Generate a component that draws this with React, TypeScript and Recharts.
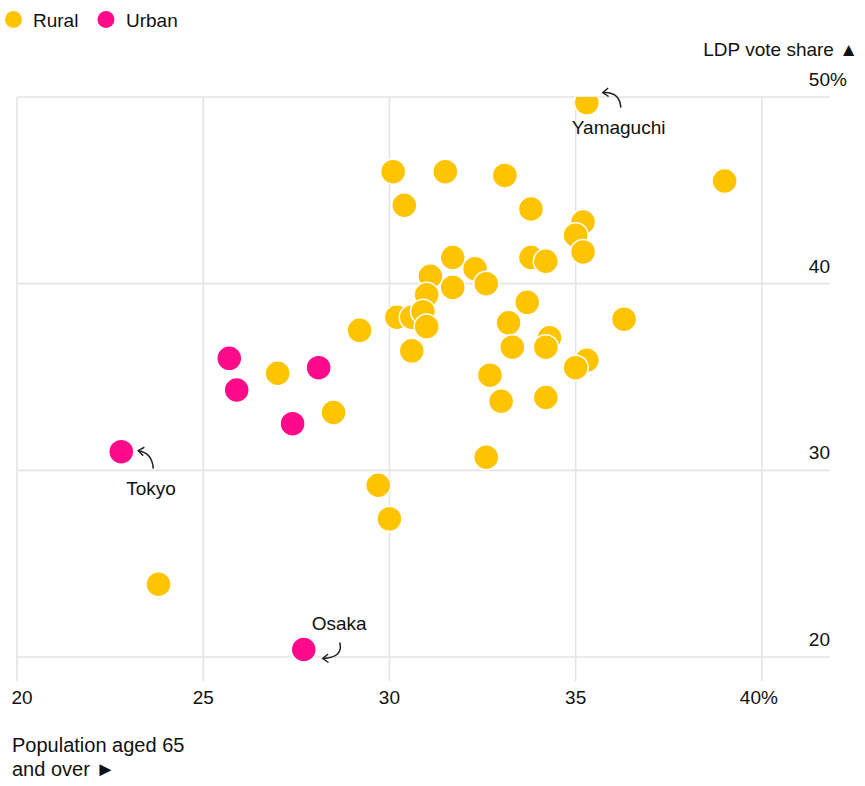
import React from 'react';
import { ScatterChart, Scatter, XAxis, YAxis, CartesianGrid, ReferenceDot } from 'recharts';

const FONT = '"Liberation Sans", Arial, Helvetica, sans-serif';
const RURAL = '#FFC400';
const URBAN = '#FF0A8A';
const INK = '#111111';

// Rural prefectures: share of population aged 65+ (%) and LDP vote share (%)
const ruralAged = [
  35.3, 39.0, 30.1, 31.5, 33.1, 30.4, 33.8, 35.2, 35.0, 35.2,
  33.8, 34.2, 31.7, 32.3, 31.1, 32.6, 31.7, 31.0, 33.7, 36.3,
  30.2, 30.6, 30.9, 31.0, 33.2, 29.2, 34.3, 34.2, 33.3, 30.6,
  35.3, 35.0, 27.0, 32.7, 33.0, 34.2, 28.5, 32.6, 29.7, 30.0,
  23.8,
];
const ruralLdp = [
  49.7, 45.5, 46.0, 46.0, 45.8, 44.2, 44.0, 43.3, 42.6, 41.7,
  41.4, 41.2, 41.4, 40.8, 40.4, 40.0, 39.8, 39.4, 39.0, 38.1,
  38.2, 38.2, 38.5, 37.7, 37.9, 37.5, 37.1, 36.6, 36.6, 36.4,
  35.9, 35.5, 35.2, 35.1, 33.7, 33.9, 33.1, 30.7, 29.2, 27.4,
  23.9,
];

// Urban prefectures
const urbanAged = [22.8, 25.7, 25.9, 28.1, 27.4, 27.7];
const urbanLdp = [31.0, 36.0, 34.3, 35.5, 32.5, 20.4];

const xTicks = [20, 25, 30, 35, 40];
const yTicks = [20, 30, 40, 50];

const calloutNames = ['Yamaguchi', 'Tokyo', 'Osaka'];
const calloutAged = [35.3, 22.8, 27.7];
const calloutLdp = [49.7, 31.0, 20.4];

const ruralData = ruralAged.map((a, i) => ({ aged: a, ldp: ruralLdp[i] }));
const urbanData = urbanAged.map((a, i) => ({ aged: a, ldp: urbanLdp[i] }));

// Style offsets for the annotations (relative to the data point)
const calloutStyle: Record<string, any> = {
  Yamaguchi: { tx: -15, ty: 31, anchor: 'start', p: [34, 5, 33, -11, 16, -10] },
  Tokyo: { tx: 5, ty: 43, anchor: 'start', p: [32, 17, 31, 1, 17, -1] },
  Osaka: { tx: 8, ty: -20, anchor: 'start', p: [36, -7, 40, 8, 19, 9] },
};

const dot = (color: string) => (props: any) => (
  <circle cx={props.cx} cy={props.cy} r={12.5} fill={color} stroke="#ffffff" strokeWidth={1.5} />
);

const XTick = (props: any) => {
  const v = props.payload.value;
  const shift = v === 20 ? 5 : v === 40 ? -3 : 0;
  return (
    <text x={props.x + shift} y={props.y + 23} textAnchor="middle" fontFamily={FONT} fontSize={19} fill={INK}>
      {v === 40 ? '40%' : String(v)}
    </text>
  );
};

const YTick = (props: any) => {
  const v = props.payload.value;
  return (
    <g>
      <text x={props.x} y={props.y - 11} textAnchor="end" fontFamily={FONT} fontSize={19} fill={INK}>
        {String(v)}
      </text>
      {v === 50 ? (
        <text x={props.x} y={props.y - 11} textAnchor="start" fontFamily={FONT} fontSize={19} fill={INK}>
          %
        </text>
      ) : null}
    </g>
  );
};

const makeCallout = (name: string) => (props: any) => {
  const s = calloutStyle[name];
  const cx = props.cx;
  const cy = props.cy;
  const [sx, sy, qx, qy, ex, ey] = s.p;
  const x0 = cx + sx, y0 = cy + sy, x1 = cx + qx, y1 = cy + qy, x2 = cx + ex, y2 = cy + ey;
  const ang = Math.atan2(y2 - y1, x2 - x1);
  const len = 7;
  const a1 = ang + Math.PI - 0.65;
  const a2 = ang + Math.PI + 0.65;
  const h1x = x2 + len * Math.cos(a1), h1y = y2 + len * Math.sin(a1);
  const h2x = x2 + len * Math.cos(a2), h2y = y2 + len * Math.sin(a2);
  return (
    <g>
      <path d={`M${x0},${y0} Q${x1},${y1} ${x2},${y2}`} fill="none" stroke="#222" strokeWidth={1.5} />
      <path d={`M${h1x},${h1y} L${x2},${y2} L${h2x},${h2y}`} fill="none" stroke="#222" strokeWidth={1.5} />
      <text x={cx + s.tx} y={cy + s.ty} textAnchor={s.anchor} fontFamily={FONT} fontSize={19} fill={INK}>
        {name}
      </text>
    </g>
  );
};

const asFn = (sc: any): ((v: number) => number) | null => {
  if (!sc) return null;
  if (typeof sc === 'function') return sc;
  if (typeof sc.map === 'function') return (v: number) => sc.map(v);
  if (typeof sc.scale === 'function') return (v: number) => sc.scale(v);
  return null;
};

const hGen = (args: any) => {
  const f = asFn(args && args.yAxis && args.yAxis.scale);
  if (!f) return [];
  return yTicks.map((t) => f(t)).filter((v) => typeof v === 'number' && !isNaN(v));
};
const vGen = (args: any) => {
  const f = asFn(args && args.xAxis && args.xAxis.scale);
  if (!f) return [];
  return xTicks.map((t) => f(t)).filter((v) => typeof v === 'number' && !isNaN(v));
};

export default function App() {
  return (
    <div style={{ position: 'absolute', left: 0, top: 0, width: 865, height: 786, background: '#fff' }}>
      <ScatterChart
        width={865}
        height={786}
        margin={{ top: 97, left: 17, right: 0, bottom: 65 }}
      >
        <CartesianGrid
          stroke="#E4E4E4"
          strokeWidth={1.6}
          horizontalCoordinatesGenerator={hGen}
          verticalCoordinatesGenerator={vGen}
        />
        <XAxis
          type="number"
          dataKey="aged"
          domain={[20, 41.83]}
          ticks={xTicks}
          interval={0}
          allowDataOverflow
          axisLine={false}
          tickLine={false}
          tickSize={0}
          tickMargin={0}
          height={40}
          tick={<XTick />}
        />
        <YAxis
          type="number"
          dataKey="ldp"
          orientation="right"
          domain={[18.714, 50]}
          ticks={yTicks}
          interval={0}
          allowDataOverflow
          axisLine={false}
          tickLine={false}
          tickSize={0}
          tickMargin={0}
          width={35}
          tick={<YTick />}
        />
        <Scatter data={ruralData} shape={dot(RURAL)} isAnimationActive={false} />
        <Scatter data={urbanData} shape={dot(URBAN)} isAnimationActive={false} />
        {calloutNames.map((n, i) => (
          <ReferenceDot
            key={n}
            x={calloutAged[i]}
            y={calloutLdp[i]}
            r={0}
            ifOverflow="visible"
            shape={makeCallout(n)}
          />
        ))}
      </ScatterChart>
      <svg
        width={865}
        height={786}
        style={{ position: 'absolute', left: 0, top: 0, pointerEvents: 'none' }}
      >
        <circle cx={13.5} cy={19.5} r={8.5} fill={RURAL} />
        <text x={33} y={27} fontFamily={FONT} fontSize={19} fill={INK}>Rural</text>
        <circle cx={106} cy={19.5} r={8.5} fill={URBAN} />
        <text x={126} y={27} fontFamily={FONT} fontSize={19} fill={INK}>Urban</text>
        <text x={858} y={56} textAnchor="end" fontFamily={FONT} fontSize={19} fill={INK}>LDP vote share ▲</text>
        <text x={12} y={752} fontFamily={FONT} fontSize={20} fill={INK}>Population aged 65</text>
        <text x={12} y={776} fontFamily={FONT} fontSize={20} fill={INK}>and over ►</text>
      </svg>
    </div>
  );
}
